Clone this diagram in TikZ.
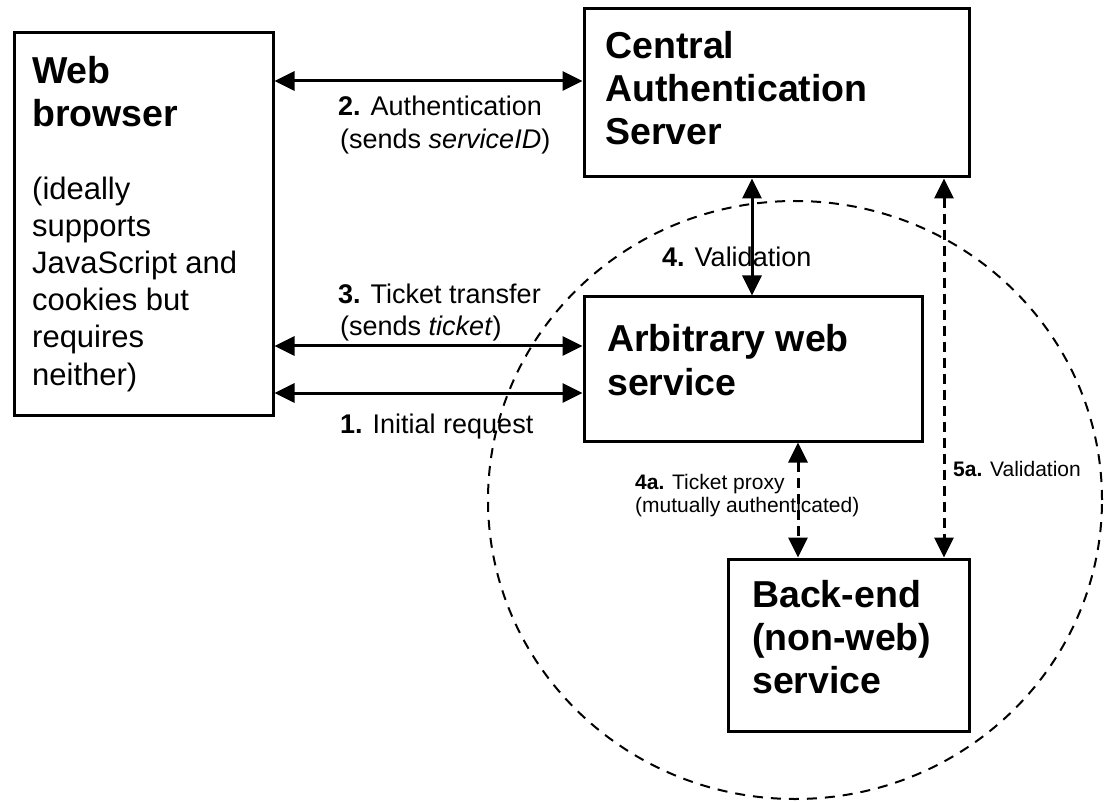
\documentclass[tikz,border=0pt]{standalone}
\usepackage{fontspec}
\setmainfont{Liberation Sans}
\usetikzlibrary{arrows.meta}
\tikzset{
  box/.style={draw, line width=3pt, inner sep=0pt, fill=white},
  ttl/.style={anchor=base west, inner sep=0pt, font=\fontsize{37.5}{40}\selectfont\bfseries},
  body/.style={anchor=base west, inner sep=0pt, font=\fontsize{31}{34}\selectfont},
  lbl/.style={anchor=base west, inner sep=0pt, font=\fontsize{27}{30}\selectfont},
  slbl/.style={anchor=base west, inner sep=0pt, font=\fontsize{21}{24}\selectfont},
  link/.style={line width=3pt, {Triangle[length=20pt,width=19pt]}-{Triangle[length=20pt,width=19pt]}},
  dlink/.style={link, dash pattern=on 10pt off 6pt},
  zone/.style={line width=2pt, dash pattern=on 10pt off 8pt},
}
\begin{document}
\begin{tikzpicture}[x=1pt,y=-1pt]
\useasboundingbox (0,0) rectangle (1106,802);
% dashed zone
\draw[zone] (795,500) ellipse [x radius=307pt, y radius=299pt];
% boxes
\node[box, minimum width=259pt, minimum height=382pt] (web) at (143.5,224) {};
\node[box, minimum width=385pt, minimum height=168pt] (cas) at (776.5,93) {};
\node[box, minimum width=338pt, minimum height=144pt] (arb) at (753,369) {};
\node[box, minimum width=241pt, minimum height=172pt] (be) at (848.5,645) {};
% box texts
\node[ttl] (tw1) at (32,84) {Web};
\node[ttl] (tw2) at (32,127) {browser};
\node[body] (b1) at (32,200) {(ideally};
\node[body] (b2) at (32,237) {supports};
\node[body] (b3) at (32,274) {JavaScript and};
\node[body] (b4) at (32,311) {cookies but};
\node[body] (b5) at (32,348) {requires};
\node[body] (b6) at (32,385) {neither)};
\node[ttl] (tc1) at (605,59) {Central};
\node[ttl] (tc2) at (605,102) {Authentication};
\node[ttl] (tc3) at (605,145) {Server};
\node[ttl] (ta1) at (607,352) {Arbitrary web};
\node[ttl] (ta2) at (607,395) {service};
\node[ttl] (tb1) at (752,607) {Back-end};
\node[ttl] (tb2) at (752,650) {(non-web)};
\node[ttl] (tb3) at (752,693) {service};
% connector rows/columns
\coordinate (r2) at (0,81);
\coordinate (r3) at (0,346);
\coordinate (r1) at (0,393);
\coordinate (c4) at (752,0);
\coordinate (c4a) at (798,0);
\coordinate (c5a) at (944,0);
\draw[link] (web.east |- r2) -- (cas.west |- r2);
\draw[link] (web.east |- r3) -- (arb.west |- r3);
\draw[link] (web.east |- r1) -- (arb.west |- r1);
\draw[link] (cas.south -| c4) -- (arb.north -| c4);
\draw[dlink] (arb.south -| c4a) -- (be.north -| c4a);
\draw[dlink] (cas.south -| c5a) -- (be.north -| c5a);
% labels
\node[lbl] (l2a) at (338,116) {\textbf{2.} Authentication};
\node[lbl] (l2b) at (340,149) {(sends \textit{serviceID})};
\node[lbl] (l3a) at (338,304) {\textbf{3.} Ticket transfer};
\node[lbl] (l3b) at (340,336) {(sends \textit{ticket})};
\node[lbl] (l1) at (340,433) {\textbf{1.} Initial request};
\node[lbl] (l4) at (662,267) {\textbf{4.} Validation};
\node[slbl] (l4a) at (635,489) {\textbf{4a.} Ticket proxy};
\node[slbl] (l4b) at (635,512) {(mutually authenticated)};
\node[slbl] (l5a) at (953,476) {\textbf{5a.} Validation};
\end{tikzpicture}
\end{document}
